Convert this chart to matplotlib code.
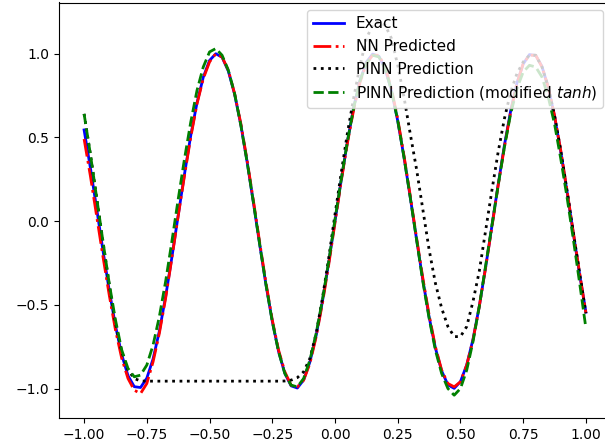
import numpy as np
import matplotlib
matplotlib.use("Agg")
import matplotlib.pyplot as plt

# x grid, -1 .. 1 in steps of 0.025
x_vals = np.linspace(-1.0, 1.0, 81)

exact = [
    0.544, 0.319, 0.075, -0.174, -0.412, -0.625, -0.798, -0.923, -0.989, -0.994,
    -0.938, -0.823, -0.657, -0.451, -0.215, 0.033, 0.279, 0.510, 0.706, 0.859,
    0.959, 0.999, 0.978, 0.895, 0.757, 0.572, 0.351, 0.108, -0.141, -0.382,
    -0.598, -0.778, -0.909, -0.984, -0.997, -0.949, -0.841, -0.682, -0.479, -0.247,
    0.000,
    0.247, 0.479, 0.682, 0.841, 0.949, 0.997, 0.984, 0.909, 0.778, 0.598,
    0.382, 0.141, -0.108, -0.351, -0.572, -0.757, -0.895, -0.978, -0.999, -0.959,
    -0.859, -0.706, -0.510, -0.279, -0.033, 0.215, 0.451, 0.657, 0.823, 0.938,
    0.994, 0.989, 0.923, 0.798, 0.625, 0.412, 0.174, -0.075, -0.319, -0.544,
]

nn_pred = [
    0.49, 0.27, 0.03, -0.21, -0.44, -0.65, -0.82, -0.94, -1.01, -1.03,
    -0.97, -0.84, -0.67, -0.46, -0.22, 0.03, 0.27, 0.50, 0.70, 0.85,
    0.95, 1.00, 0.98, 0.90, 0.76, 0.58, 0.36, 0.12, -0.13, -0.37,
    -0.59, -0.77, -0.90, -0.98, -0.99, -0.95, -0.85, -0.69, -0.49, -0.26,
    -0.01,
    0.24, 0.47, 0.67, 0.83, 0.94, 0.99, 0.99, 0.92, 0.79, 0.61,
    0.39, 0.15, -0.10, -0.34, -0.56, -0.75, -0.89, -0.97, -0.99, -0.96,
    -0.86, -0.71, -0.51, -0.28, -0.04, 0.21, 0.44, 0.65, 0.82, 0.94,
    0.99, 0.99, 0.92, 0.80, 0.63, 0.42, 0.18, -0.07, -0.31, -0.55,
]

pinn_pred = [
    0.64, 0.40, 0.14, -0.12, -0.38, -0.61, -0.78, -0.89, -0.94, -0.955,
    -0.956, -0.956, -0.956, -0.956, -0.956, -0.956, -0.956, -0.956, -0.956, -0.956,
    -0.956, -0.956, -0.956, -0.956, -0.956, -0.956, -0.956, -0.956, -0.956, -0.956,
    -0.956, -0.956, -0.955, -0.95, -0.935, -0.90, -0.82, -0.67, -0.46, -0.22,
    0.04,
    0.29, 0.53, 0.74, 0.93, 1.09, 1.17, 1.19, 1.17, 1.09, 0.93,
    0.74, 0.52, 0.31, 0.07, -0.17, -0.37, -0.52, -0.63, -0.69, -0.69,
    -0.63, -0.48, -0.30, -0.06, 0.18, 0.41, 0.61, 0.77, 0.88, 0.95,
    0.99, 0.99, 0.92, 0.80, 0.63, 0.42, 0.18, -0.07, -0.31, -0.55,
]

pinn_tanh = [
    0.64, 0.40, 0.14, -0.12, -0.37, -0.59, -0.77, -0.88, -0.93, -0.92,
    -0.86, -0.74, -0.57, -0.36, -0.12, 0.13, 0.37, 0.59, 0.78, 0.92,
    1.01, 1.03, 0.99, 0.90, 0.76, 0.57, 0.35, 0.11, -0.14, -0.38,
    -0.60, -0.78, -0.91, -0.98, -0.99, -0.94, -0.83, -0.67, -0.47, -0.24,
    0.01,
    0.25, 0.48, 0.68, 0.84, 0.94, 0.99, 0.98, 0.91, 0.78, 0.60,
    0.38, 0.14, -0.11, -0.36, -0.58, -0.77, -0.91, -1.00, -1.04, -1.00,
    -0.89, -0.72, -0.51, -0.27, -0.03, 0.21, 0.44, 0.64, 0.79, 0.89,
    0.93, 0.92, 0.86, 0.74, 0.58, 0.37, 0.14, -0.11, -0.37, -0.64,
]

fig = plt.figure(figsize=(6.05, 4.47), dpi=100)
ax = fig.add_axes([59 / 605, 1 - 418 / 447, 552 / 605, 415.5 / 447])

ax.plot(x_vals, exact, color='blue', linestyle='-', linewidth=2, label='Exact')
ax.plot(x_vals, nn_pred, color='red', linestyle='-.', linewidth=2, label='NN Predicted')
ax.plot(x_vals, pinn_pred, color='black', linestyle=':', linewidth=2, label='PINN Prediction')
ax.plot(x_vals, pinn_tanh, color='green', linestyle='--', linewidth=2,
        label='PINN Prediction (modified $tanh$)')

ax.set_xlim(-1.1, 1.1)
ax.set_ylim(-1.176, 1.305)
ax.set_xticks([-1.0, -0.75, -0.5, -0.25, 0.0, 0.25, 0.5, 0.75, 1.0])
ax.set_yticks([-1.0, -0.5, 0.0, 0.5, 1.0])
ax.legend(loc='upper right', fontsize=11)

fig.savefig('out.png', dpi=100)
